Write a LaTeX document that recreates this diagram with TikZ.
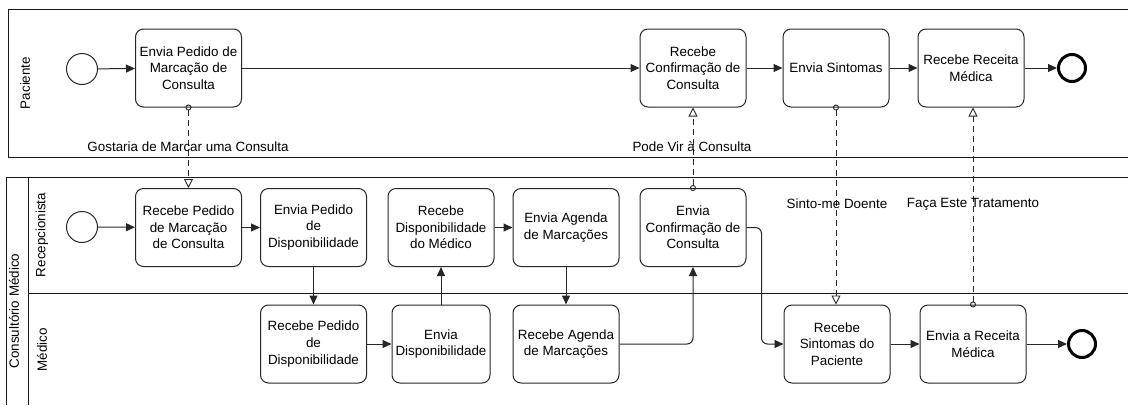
\documentclass[tikz,border=0pt]{standalone}
\usepackage{fontspec}
\setmainfont{Liberation Sans}
\usetikzlibrary{arrows.meta}

\begin{document}
\begin{tikzpicture}[x=1pt,y=-1pt,
  task/.style={draw=black!85, fill=white, rounded corners=8pt, line width=1pt,
    minimum width=106pt, minimum height=78pt, align=center, inner sep=1pt,
    font=\fontsize{13.4}{16.6}\selectfont},
  startev/.style={draw=black!85, fill=white, circle, line width=1pt,
    minimum size=31pt, inner sep=0pt},
  endev/.style={draw=black, fill=white, circle, line width=3pt,
    minimum size=27pt, inner sep=0pt},
  seq/.style={draw=black!85, line width=1pt,
    -{Triangle[length=9pt,width=8pt]}, rounded corners=6pt},
  msg/.style={draw=black!85, line width=0.9pt, dash pattern=on 6pt off 4pt,
    {Circle[open,length=6pt,width=6pt]}-{Triangle[open,length=9pt,width=9pt]},
    shorten <=-3pt},
  lbl/.style={font=\fontsize{13.4}{16}\selectfont, inner sep=0pt},
  lanelbl/.style={font=\fontsize{13.4}{16}\selectfont, rotate=90, inner sep=0pt},
  pool/.style={draw=black!90, line width=1pt}
]
\useasboundingbox (0,0) rectangle (1128,405);

% pools and lanes
\draw[pool] (1128,9) -| (8,157) -- (1128,157);
\draw[pool] (1128,177) -| (6,405);
\draw[pool] (28,177) -- (28,405);
\draw[pool] (28,293) -- (1128,293);

\node[lanelbl] (lpac) at (25,83) {Paciente};
\node[lanelbl] (lcons) at (14,311) {Consultório Médico};
\node[lanelbl] (lrec) at (42,235) {Recepcionista};
\node[lanelbl] (lmed) at (42,350) {Médico};

% Paciente
\node[startev] (ps) at (82,69) {};
\node[task] (t1) at (188.5,68) {Envia Pedido de\\Marcação de\\Consulta};
\node[task] (t2) at (693,68) {Recebe\\Confirmação de\\Consulta};
\node[task] (t3) at (836,68) {Envia Sintomas};
\node[task] (t4) at (971,68) {Recebe Receita\\Médica};
\node[endev] (pe) at (1072,68) {};

% Recepcionista
\node[startev] (rs) at (82,227) {};
\node[task] (r1) at (188.5,227.5) {Recebe Pedido\\de Marcação\\de Consulta};
\node[task] (r2) at (313.5,227.5) {Envia Pedido\\de\\Disponibilidade};
\node[task] (r3) at (441,227.5) {Recebe\\Disponibilidade\\do Médico};
\node[task] (r4) at (566,227.5) {Envia Agenda\\de Marcações};
\node[task] (r5) at (693,227.5) {Envia\\Confirmação de\\Consulta};

% Médico
\node[task] (m1) at (313.5,344) {Recebe Pedido\\de\\Disponibilidade};
\node[task, minimum width=98pt] (m2) at (441,344) {Envia\\Disponibilidade};
\node[task] (m3) at (566,344) {Recebe Agenda\\de Marcações};
\node[task] (m4) at (837,344) {Recebe\\Sintomas do\\Paciente};
\node[task] (m5) at (973,344) {Envia a Receita\\Médica};
\node[endev] (me) at (1082,344) {};

% sequence flows
\draw[seq] (ps) -- (t1);
\draw[seq] (t1) -- (t2);
\draw[seq] (t2) -- (t3);
\draw[seq] (t3) -- (t4);
\draw[seq] (t4) -- (pe);

\draw[seq] (rs) -- (r1);
\draw[seq] (r1) -- (r2);
\draw[seq] (r2) -- (m1);
\draw[seq] (m1) -- (m2);
\draw[seq] (m2) -- (r3);
\draw[seq] (r3) -- (r4);
\draw[seq] (r4) -- (m3);
\draw[seq] (m3.east) -| (r5.south);
\draw[seq] (r5.east) -- ++(15,0) |- (m4.west);
\draw[seq] (m4) -- (m5);
\draw[seq] (m5) -- (me);

% message flows
\draw[msg] (t1.south) -- (r1.north);
\draw[msg] (r5.north) -- (t2.south);
\draw[msg] (t3.south) -- (t3.south |- m4.north);
\draw[msg] (m5.north) -- (m5.north |- t4.south);

\node[lbl] (g1) at (188,147) {Gostaria de Marcar uma Consulta};
\node[lbl] (g2) at (692,147) {Pode Vir à Consulta};
\node[lbl] (g3) at (837,204) {Sinto-me Doente};
\node[lbl] (g4) at (973,204) {Faça Este Tratamento};
\end{tikzpicture}
\end{document}
